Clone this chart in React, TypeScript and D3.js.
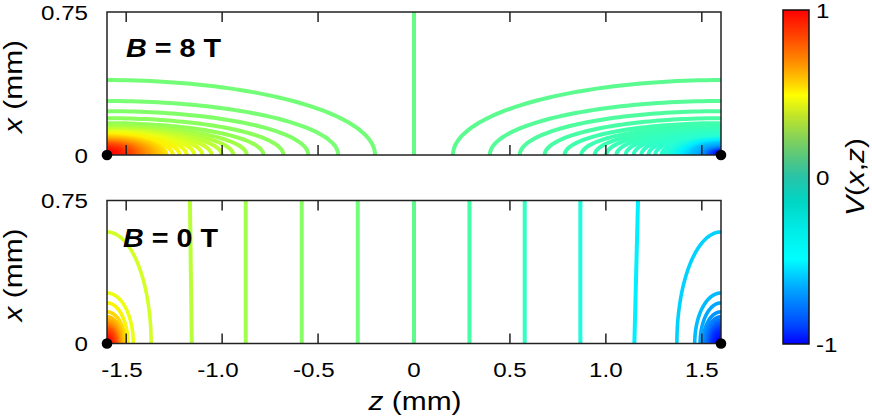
import React from "react";
import * as d3 from "d3";

// ---------- data ----------
const zTicks = [-1.5, -1.0, -0.5, 0, 0.5, 1.0, 1.5];
const zTickLabels = ["-1.5", "-1.0", "-0.5", "0", "0.5", "1.0", "1.5"];
const xTickValues = [0, 0.75];
const xTickLabels = ["0", "0.75"];
const cbTickValues = [1, 0, -1];
const cbTickLabels = ["1", "0", "-1"];

// Top panel (B = 8 T): corner contours, semi-axes along z (from contact) and x
const topArcA = [
  1.397, 1.205, 1.049, 0.919, 0.815, 0.728, 0.658, 0.598, 0.545, 0.497, 0.455, 0.415, 0.378, 0.343, 0.31,
  0.295, 0.28, 0.265, 0.25, 0.235, 0.22, 0.205, 0.19, 0.175, 0.16, 0.145, 0.13, 0.115, 0.1, 0.087, 0.074,
  0.061, 0.048, 0.035, 0.022,
];
const topArcB = [
  0.393, 0.283, 0.23, 0.193, 0.167, 0.152, 0.143, 0.136, 0.13, 0.125, 0.12, 0.115, 0.11, 0.105, 0.1,
  0.096, 0.092, 0.088, 0.084, 0.08, 0.076, 0.072, 0.068, 0.064, 0.06, 0.056, 0.051, 0.046, 0.041, 0.036,
  0.031, 0.026, 0.021, 0.016, 0.011,
];
const topLeftLevels = [
  0.08, 0.1, 0.13, 0.16, 0.19, 0.23, 0.27, 0.31, 0.35, 0.39, 0.43, 0.47, 0.51, 0.54, 0.57,
  0.6, 0.62, 0.645, 0.67, 0.695, 0.72, 0.745, 0.77, 0.795, 0.82, 0.845, 0.87, 0.89, 0.91, 0.93, 0.95,
  0.965, 0.98, 0.99, 1.0,
];
const topRightLevels = [
  -0.01, -0.03, -0.05, -0.07, -0.09, -0.1, -0.11, -0.12, -0.13, -0.14, -0.15, -0.16, -0.17, -0.18, -0.19,
  -0.2, -0.21, -0.22, -0.24, -0.26, -0.28, -0.3, -0.33, -0.36, -0.4, -0.44, -0.48, -0.53, -0.58, -0.64,
  -0.7, -0.77, -0.84, -0.92, -1.0,
];
const topCenterLevel = 0.02;

// Bottom panel (B = 0 T)
const bottomLineLevels = [0.3, 0.225, 0.15, 0.075, 0, -0.075, -0.15, -0.225, -0.3];
const bottomLineZBottom = [-1.158, -0.877, -0.585, -0.293, 0, 0.289, 0.577, 0.867, 1.148];
const bottomLineZTop = [-1.168, -0.877, -0.585, -0.293, 0, 0.289, 0.577, 0.867, 1.168];
const bottomArcA = [0.23, 0.137, 0.109, 0.094, 0.082, 0.072, 0.063, 0.055, 0.047, 0.04, 0.033, 0.026, 0.019, 0.012];
const bottomArcB = [0.585, 0.265, 0.213, 0.166, 0.14, 0.122, 0.106, 0.092, 0.079, 0.067, 0.055, 0.044, 0.032, 0.02];
const bottomLeftLevels = [0.375, 0.45, 0.525, 0.6, 0.65, 0.7, 0.75, 0.8, 0.85, 0.88, 0.91, 0.94, 0.97, 1.0];
const bottomRightLevels = [-0.375, -0.45, -0.525, -0.6, -0.65, -0.7, -0.75, -0.8, -0.85, -0.88, -0.91, -0.94, -0.97, -1.0];

// colour maps
const lineStopV = [-1, -0.6, -0.4, -0.3, -0.2, -0.1, 0, 0.1, 0.2, 0.3, 0.45, 0.55, 0.75, 1];
const lineStopC = [
  "rgb(0,0,255)", "rgb(0,150,255)", "rgb(0,200,255)", "rgb(0,240,255)", "rgb(40,255,210)",
  "rgb(60,255,175)", "rgb(95,250,140)", "rgb(120,255,115)", "rgb(150,255,80)", "rgb(185,255,55)",
  "rgb(235,255,20)", "rgb(255,240,0)", "rgb(255,140,0)", "rgb(255,0,0)",
];
const barStopV = [1, 0.83, 0.67, 0.55, 0.49, 0.37, 0.23, 0.1, 0, -0.15, -0.3, -0.49, -0.66, -0.89, -1];
const barStopC = [
  "#ff0000", "#ff4a00", "#ff9600", "#ffd800", "#ffff00", "#c2e628", "#84d25a", "#50c684",
  "#28c3a8", "#00d6c4", "#00eae4", "#00ffff", "#00aaff", "#0046ff", "#0000ff",
];

// ---------- layout ----------
const W = 872;
const H = 416;
const L = 107;
const R = 721;
const TOP = { y0: 12, y1: 155 };
const BOT = { y0: 200.5, y1: 343.5 };
const FONT = "'Liberation Sans', Arial, Helvetica, sans-serif";
const SX = 1.15;

const zScale = d3.scaleLinear().domain([-1.6, 1.6]).range([L, R]);
const lineColor = d3.scaleLinear<string>().domain(lineStopV).range(lineStopC).interpolate(d3.interpolateRgb).clamp(true);

function Txt(props: {
  x: number; y: number; size: number; anchor?: string; rotate?: number; weight?: string; children: React.ReactNode;
}) {
  const { x, y, size, anchor = "start", rotate = 0, weight = "normal", children } = props;
  return (
    <text
      transform={`translate(${x},${y}) rotate(${rotate}) scale(${SX},1)`}
      fontSize={size}
      textAnchor={anchor as any}
      fontFamily={FONT}
      fontWeight={weight}
      fill="#000"
    >
      {children}
    </text>
  );
}

function arcPath(side: number, a: number, b: number, y: d3.ScaleLinear<number, number>) {
  const z0 = side < 0 ? -1.6 : 1.6;
  const n = 60;
  const pts: [number, number][] = d3.range(n + 1).map((i) => {
    const t = -0.06 + (i / n) * (Math.PI / 2 + 0.12);
    return [z0 - side * a * Math.cos(t), b * Math.sin(t)];
  });
  return d3
    .line<[number, number]>()
    .x((d) => zScale(d[0]))
    .y((d) => y(d[1]))(pts) as string;
}

function Panel(props: {
  id: string;
  y0: number;
  y1: number;
  arcs: { a: number[]; b: number[]; left: number[]; right: number[]; width: number };
  lines: { zb: number; zt: number; level: number }[];
  label: string;
  labelX: number;
  labelY: number;
}) {
  const { id, y0, y1, arcs, lines, label, labelX, labelY } = props;
  const y = d3.scaleLinear().domain([0, 0.75]).range([y1, y0]);
  const lineGen = d3
    .line<[number, number]>()
    .x((d) => zScale(d[0]))
    .y((d) => y(d[1]));
  return (
    <g>
      <defs>
        <clipPath id={id}>
          <rect x={L} y={y0} width={R - L} height={y1 - y0} />
        </clipPath>
      </defs>
      <g clipPath={`url(#${id})`} fill="none" strokeLinecap="butt">
        {arcs.a.map((a, i) => (
          <path key={"l" + i} d={arcPath(-1, a, arcs.b[i], y)} stroke={lineColor(arcs.left[i])} strokeWidth={arcs.width} />
        ))}
        {arcs.a.map((a, i) => (
          <path key={"r" + i} d={arcPath(1, a, arcs.b[i], y)} stroke={lineColor(arcs.right[i])} strokeWidth={arcs.width} />
        ))}
      </g>
      {/* ticks */}
      <g stroke="#222" strokeWidth={1.5}>
        {zTicks.map((t) => (
          <g key={t}>
            <line x1={zScale(t)} x2={zScale(t)} y1={y1} y2={y1 - 10} />
            <line x1={zScale(t)} x2={zScale(t)} y1={y0} y2={y0 + 10} />
          </g>
        ))}
      </g>
      <g clipPath={`url(#${id})`} fill="none">
        {lines.map((l, i) => (
          <path
            key={"v" + i}
            d={lineGen([
              [l.zb, -0.02],
              [l.zt, 0.77],
            ]) as string}
            stroke={lineColor(l.level)}
            strokeWidth={4}
          />
        ))}
      </g>
      <rect x={L} y={y0} width={R - L} height={y1 - y0} fill="none" stroke="#222" strokeWidth={1.5} />
      {xTickValues.map((v, i) => (
        <Txt key={v} x={88} y={y(v) + 7.5} size={21} anchor="end">
          {xTickLabels[i]}
        </Txt>
      ))}
      <Txt x={labelX} y={labelY} size={25} weight="bold">
        <tspan fontStyle="italic">B</tspan>
        {label}
      </Txt>
      <Txt x={22} y={(y0 + y1) / 2 + 3} size={26} anchor="middle" rotate={-90}>
        <tspan fontStyle="italic">x</tspan> (mm)
      </Txt>
      <circle cx={L} cy={y1} r={5.3} fill="#000" />
      <circle cx={R} cy={y1} r={5.3} fill="#000" />
    </g>
  );
}

export default function App() {
  const cbY = d3.scaleLinear().domain([-1, 1]).range([344, 10]);
  const topLines = [{ zb: 0, zt: 0, level: topCenterLevel }];
  const botLines = bottomLineLevels.map((lv, i) => ({ zb: bottomLineZBottom[i], zt: bottomLineZTop[i], level: lv }));
  return (
    <svg width={W} height={H} style={{ position: "absolute", left: 0, top: 0, background: "#fff" }}>
      <defs>
        <linearGradient id="cbgrad" x1="0" y1="0" x2="0" y2="1">
          {barStopV.map((v, i) => (
            <stop key={i} offset={`${((1 - v) / 2) * 100}%`} stopColor={barStopC[i]} />
          ))}
        </linearGradient>
      </defs>
      <rect x={0} y={0} width={W} height={H} fill="#fff" />
      <Panel
        id="clipTop"
        y0={TOP.y0}
        y1={TOP.y1}
        arcs={{ a: topArcA, b: topArcB, left: topLeftLevels, right: topRightLevels, width: 4 }}
        lines={topLines}
        label=" = 8 T"
        labelX={126}
        labelY={57}
      />
      <Panel
        id="clipBot"
        y0={BOT.y0}
        y1={BOT.y1}
        arcs={{ a: bottomArcA, b: bottomArcB, left: bottomLeftLevels, right: bottomRightLevels, width: 3.6 }}
        lines={botLines}
        label=" = 0 T"
        labelX={123}
        labelY={246.5}
      />
      {zTicks.map((t, i) => (
        <Txt key={t} x={zScale(t) - (t < 0 ? 4.2 : 0)} y={377} size={21} anchor="middle">
          {zTickLabels[i]}
        </Txt>
      ))}
      <Txt x={415} y={410} size={26} anchor="middle">
        <tspan fontStyle="italic">z</tspan> (mm)
      </Txt>
      {/* colour bar */}
      <rect x={783} y={10} width={26} height={334} fill="url(#cbgrad)" stroke="#111" strokeWidth={1.5} />
      {cbTickValues.map((v, i) => (
        <Txt key={v} x={816} y={cbY(v) + 7.5} size={21}>
          {cbTickLabels[i]}
        </Txt>
      ))}
      <Txt x={864} y={177} size={26} anchor="middle" rotate={-90}>
        <tspan fontStyle="italic">V</tspan>(<tspan fontStyle="italic">x</tspan>,<tspan fontStyle="italic">z</tspan>)
      </Txt>
    </svg>
  );
}
